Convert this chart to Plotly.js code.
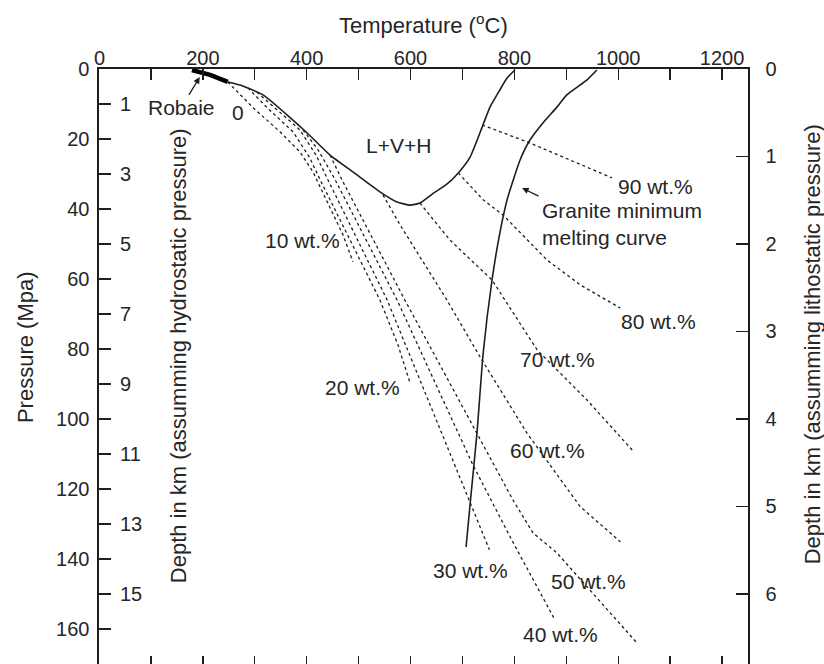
<!DOCTYPE html>
<html>
<head>
<meta charset="utf-8">
<script src="https://cdn.plot.ly/plotly-3.0.1.min.js"></script>
<style>
html, body { margin: 0; padding: 0; overflow: hidden; background: #fff; }
#chart { width: 824px; height: 672px; }
</style>
</head>
<body>
<div id="chart"></div>
<script>
// ---- data (Temperature °C, Pressure MPa) ----
const robaieT = [179, 214, 248];
const robaieP = [0.3, 1.7, 3.7];

const boundaryT = [248, 272, 316, 362, 401, 445, 489, 541, 574, 599, 618, 643, 670, 692, 715, 738, 753, 772, 786, 801];
const boundaryP = [3.7, 4.6, 7.4, 13.1, 18.3, 24.6, 29.4, 35.1, 38.0, 38.9, 38.3, 35.6, 32.9, 29.7, 25.1, 16.6, 10.9, 6.0, 2.6, 0.3];

const graniteT = [959, 940, 901, 882, 855, 830, 811, 786, 772, 757, 740, 728, 715, 707];
const graniteP = [0.3, 3.1, 7.4, 10.9, 15.4, 20.3, 26.0, 37.4, 46.9, 60.3, 81.1, 104.0, 124.0, 136.6];

const iso10T = [248, 297, 349, 387, 412, 445, 470, 489];
const iso10P = [3.7, 11.1, 18.0, 23.7, 29.4, 39.7, 47.4, 55.1];
const iso20T = [287, 324, 374, 406, 426, 484, 541, 576, 599];
const iso20P = [5.4, 11.1, 18.0, 25.4, 31.7, 48.9, 66.0, 78.9, 89.7];
const iso30T = [304, 339, 387, 418, 441, 555, 638, 715, 752];
const iso30P = [6.6, 11.1, 17.4, 24.6, 31.7, 66.0, 96.0, 124.0, 137.4];
const iso40T = [393, 422, 455, 574, 720, 795, 878];
const iso40P = [17.4, 23.1, 31.7, 66.0, 113.1, 134.6, 157.4];
const iso50T = [445, 468, 589, 728, 797, 836, 882, 1036];
const iso50P = [24.6, 31.7, 66.0, 104.0, 123.1, 132.6, 138.3, 164.0];
const iso60T = [547, 580, 670, 734, 824, 927, 1004];
const iso60P = [36.0, 44.6, 66.0, 82.3, 104.0, 125.1, 135.1];
const iso70T = [618, 676, 757, 844, 940, 1027];
const iso70P = [38.3, 48.9, 60.3, 80.3, 94.6, 108.9];
const iso80T = [692, 740, 778, 863, 927, 1004];
const iso80P = [29.7, 37.4, 41.7, 54.6, 61.7, 68.3];
const iso90T = [738, 826, 907, 988];
const iso90P = [16.0, 20.9, 26.0, 31.1];

const isoLabels = ['10 wt.%', '20 wt.%', '30 wt.%', '40 wt.%', '50 wt.%', '60 wt.%', '70 wt.%', '80 wt.%', '90 wt.%'];
const isoLabelT = [391, 507, 715, 888, 942, 863, 884, 1077, 1071];
const isoLabelP = [48.9, 90.9, 143.4, 161.7, 146.6, 108.9, 83.1, 72.3, 33.7];

const xTickStep = 200;
const yTickStep = 20;
const hydroTicks = [1, 3, 5, 7, 9, 11, 13, 15];
const lithoTicks = [0, 1, 2, 3, 4, 5, 6];

const T_RANGE = [0, 1250];
const P_MAX = 170.9;
const MPA_PER_KM_HYDRO = 10;
const MPA_PER_KM_LITHO = 25;

// ---- build ----
const ink = '#1e1e1e';
const textCol = '#262626';
const FONT = 'Liberation Sans, Arial, sans-serif';

const isoT = [iso10T, iso20T, iso30T, iso40T, iso50T, iso60T, iso70T, iso80T, iso90T];
const isoP = [iso10P, iso20P, iso30P, iso40P, iso50P, iso60P, iso70P, iso80P, iso90P];

const traces = [];
isoT.forEach((t, i) => {
  traces.push({x: t, y: isoP[i], mode: 'lines', line: {color: ink, width: 1.3, dash: 'dot'},
    hoverinfo: 'skip', showlegend: false});
});
traces.push({x: boundaryT, y: boundaryP, mode: 'lines', line: {color: ink, width: 1.6, shape: 'spline', smoothing: 0.5}, showlegend: false});
traces.push({x: graniteT, y: graniteP, mode: 'lines', line: {color: ink, width: 1.6, shape: 'spline', smoothing: 0.5}, showlegend: false});
traces.push({x: robaieT, y: robaieP, mode: 'lines', line: {color: '#000', width: 4.5}, showlegend: false});
// empty traces to register the extra axes
traces.push({x: [], y: [], xaxis: 'x2', yaxis: 'y', showlegend: false});
traces.push({x: [], y: [], xaxis: 'x', yaxis: 'y2', showlegend: false});
traces.push({x: [], y: [], xaxis: 'x', yaxis: 'y3', showlegend: false});

const annFont = {family: FONT, size: 21, color: textCol};
const tickFont = {family: FONT, size: 20, color: textCol};
const annotations = [];
isoLabels.forEach((lab, i) => {
  annotations.push({x: isoLabelT[i], y: isoLabelP[i], xref: 'x', yref: 'y', text: lab,
    showarrow: false, font: annFont, xanchor: 'center', yanchor: 'middle'});
});
// Robaie label with arrow pointing at the thick segment
annotations.push({x: 194, y: 2.3, ax: 158, ay: 11.1, xref: 'x', yref: 'y', axref: 'x', ayref: 'y',
  text: 'Robaie', font: annFont, showarrow: true, arrowhead: 2, arrowsize: 1, arrowwidth: 1.3,
  arrowcolor: ink, standoff: 0, startstandoff: 0});
annotations.push({x: 268, y: 12.3, xref: 'x', yref: 'y', text: '0', showarrow: false, font: annFont});
annotations.push({x: 576, y: 22, xref: 'x', yref: 'y', text: 'L+V+H', showarrow: false, font: annFont});
// Granite label with arrow
annotations.push({x: 815, y: 34.0, ax: 850, ay: 36.6, xref: 'x', yref: 'y', axref: 'x', ayref: 'y',
  text: 'Granite minimum<br>melting curve', align: 'left', xanchor: 'left', yanchor: 'top',
  font: annFont, showarrow: true, arrowhead: 2, arrowsize: 1, arrowwidth: 1.3, arrowcolor: ink,
  standoff: 0, startstandoff: 2});
// x tick label at the origin (Plotly hides it at the axis corner)
annotations.push({x: T_RANGE[0], y: 1, xref: 'x', yref: 'paper', text: String(T_RANGE[0]),
  showarrow: false, font: tickFont, xanchor: 'center', yanchor: 'bottom', yshift: -1, borderpad: 0});

// titles
annotations.push({x: 0.5, y: 1.075, xref: 'paper', yref: 'paper', text: 'Temperature (<sup>o</sup>C)',
  showarrow: false, font: {family: FONT, size: 22, color: textCol}, xanchor: 'center', yanchor: 'middle'});
annotations.push({x: -0.114, y: 0.535, xref: 'paper', yref: 'paper', text: 'Pressure (Mpa)', textangle: -90,
  showarrow: false, font: {family: FONT, size: 22, color: textCol}, xanchor: 'center', yanchor: 'middle'});
annotations.push({x: 0.122, y: 0.52, xref: 'paper', yref: 'paper', text: 'Depth in km (assumming hydrostatic pressure)', textangle: -90,
  showarrow: false, font: {family: FONT, size: 22, color: textCol}, xanchor: 'center', yanchor: 'middle'});
annotations.push({x: 1.099, y: 0.54, xref: 'paper', yref: 'paper', text: 'Depth in km (assumming lithostatic pressure)', textangle: -90,
  showarrow: false, font: {family: FONT, size: 22, color: textCol}, xanchor: 'center', yanchor: 'middle'});

const common = {showgrid: false, zeroline: false, fixedrange: true};

const layout = {
  width: 824, height: 672,
  margin: {l: 99, r: 76, t: 69, b: 5},
  paper_bgcolor: '#fff', plot_bgcolor: '#fff',
  showlegend: false,
  xaxis: Object.assign({}, common, {
    range: T_RANGE, side: 'top', anchor: 'y', dtick: xTickStep, tick0: 0,
    ticks: 'inside', ticklen: 11, tickwidth: 1.4, tickcolor: ink,
    minor: {dtick: xTickStep / 2, tick0: 0, ticks: 'inside', ticklen: 11, tickwidth: 1.4, tickcolor: ink},
    showline: true, linecolor: ink, linewidth: 1.6, tickfont: tickFont, ticklabelstandoff: -6
  }),
  xaxis2: Object.assign({}, common, {
    range: T_RANGE, side: 'bottom', anchor: 'y', overlaying: 'x', dtick: xTickStep / 2, tick0: 0,
    ticks: 'inside', ticklen: 11, tickwidth: 1.4, tickcolor: ink, showticklabels: false,
    showline: true, linecolor: ink, linewidth: 1.6
  }),
  yaxis: Object.assign({}, common, {
    range: [P_MAX, 0], side: 'left', anchor: 'x', dtick: yTickStep, tick0: 0,
    ticks: 'inside', ticklen: 12, tickwidth: 1.4, tickcolor: ink,
    showline: true, linecolor: ink, linewidth: 1.6, tickfont: tickFont, ticklabelstandoff: 4
  }),
  yaxis3: Object.assign({}, common, {
    range: [P_MAX / MPA_PER_KM_HYDRO, 0], side: 'left', anchor: 'x', overlaying: 'y',
    tickmode: 'array', tickvals: hydroTicks, ticktext: hydroTicks.map(String),
    ticks: 'inside', ticklen: 12, tickwidth: 1.4, tickcolor: ink, ticklabelposition: 'inside',
    showline: false, tickfont: tickFont, ticklabelstandoff: 10
  }),
  yaxis2: Object.assign({}, common, {
    range: [P_MAX / MPA_PER_KM_LITHO, 0], side: 'right', anchor: 'x', overlaying: 'y',
    tickmode: 'array', tickvals: lithoTicks, ticktext: lithoTicks.map(String),
    ticks: 'inside', ticklen: 12, tickwidth: 1.4, tickcolor: ink,
    showline: true, linecolor: ink, linewidth: 1.6, tickfont: tickFont, ticklabelstandoff: 12
  }),
  annotations: annotations
};

Plotly.newPlot('chart', traces, layout, {displayModeBar: false, staticPlot: true});
</script>
</body>
</html>
